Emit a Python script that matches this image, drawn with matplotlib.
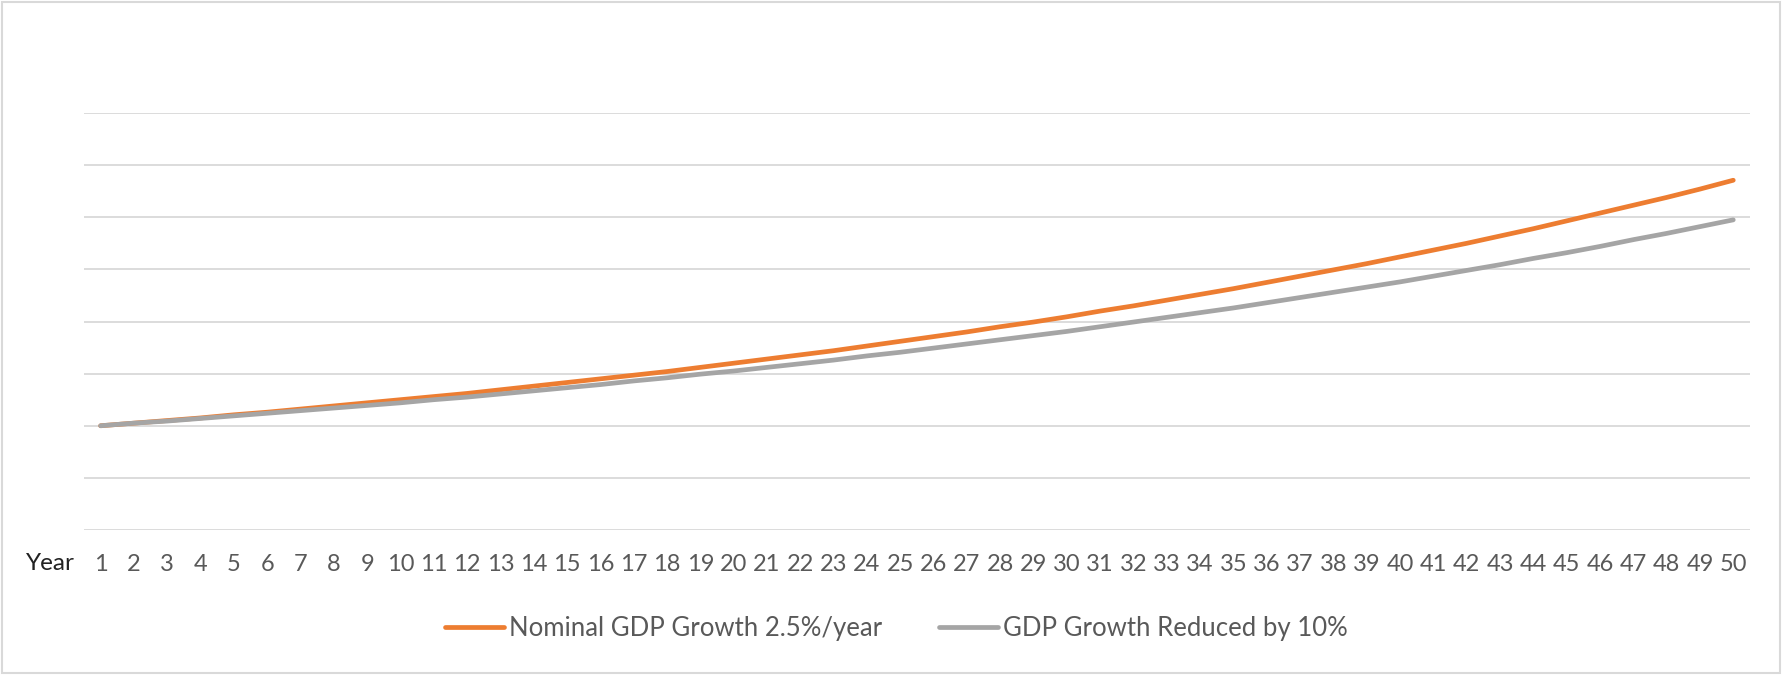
import matplotlib.pyplot as plt
from matplotlib.patches import Rectangle
import numpy as np

plt.rcParams['font.family'] = ['Lato', 'DejaVu Sans']

# Data (in gridline units; y axis carries no labels)
years = list(range(1, 51))
nominal_gdp = [2.00, 2.05, 2.10, 2.15, 2.21, 2.26, 2.32, 2.38, 2.44, 2.50,
               2.56, 2.62, 2.69, 2.76, 2.83, 2.90, 2.97, 3.04, 3.12, 3.20,
               3.28, 3.36, 3.44, 3.53, 3.62, 3.71, 3.80, 3.90, 3.99, 4.09,
               4.20, 4.30, 4.41, 4.52, 4.63, 4.75, 4.87, 4.99, 5.11, 5.24,
               5.37, 5.50, 5.64, 5.78, 5.93, 6.08, 6.23, 6.38, 6.54, 6.71]
reduced_gdp = [2.00, 2.05, 2.09, 2.14, 2.19, 2.24, 2.29, 2.34, 2.39, 2.44,
               2.50, 2.55, 2.61, 2.67, 2.73, 2.79, 2.86, 2.92, 2.99, 3.05,
               3.12, 3.19, 3.26, 3.34, 3.41, 3.49, 3.57, 3.65, 3.73, 3.81,
               3.90, 3.99, 4.08, 4.17, 4.26, 4.36, 4.46, 4.56, 4.66, 4.76,
               4.87, 4.98, 5.09, 5.21, 5.32, 5.44, 5.57, 5.69, 5.82, 5.95]
gridlines = list(range(0, 9))

fig = plt.figure(figsize=(17.82, 6.75), dpi=100)
ax = fig.add_axes([0.0471, 0.2148, 0.9349, 0.6178])

ax.plot(years, nominal_gdp, color='#ED7D31', linewidth=3.4,
        solid_capstyle='round', label='Nominal GDP Growth 2.5%/year')
ax.plot(years, reduced_gdp, color='#A5A5A5', linewidth=3.4,
        solid_capstyle='round', label='GDP Growth Reduced by 10%')

ax.set_xlim(0.5, 50.5)
ax.set_ylim(0, 8)
ax.set_yticks(gridlines)
ax.set_yticklabels([])
ax.set_xticks(years)
ax.set_xticklabels([str(y) for y in years])
ax.tick_params(axis='both', length=0)
ax.tick_params(axis='x', labelsize=17, labelcolor='#595959', pad=17)
ax.yaxis.grid(True, color='#D9D9D9', linewidth=1.3)
ax.set_axisbelow(True)
for s in ax.spines.values():
    s.set_visible(False)

fig.text(26 / 1782, 1 - 563 / 675, 'Year', fontsize=17.5, color='#222222',
         ha='left', va='center')

ax.legend(loc='center', bbox_to_anchor=(0.503, 0.0696), bbox_transform=fig.transFigure,
          ncol=2, frameon=False, fontsize=18.5, labelcolor='#595959',
          handlelength=2.3, handletextpad=0.2, columnspacing=2.2)

fig.patches.append(Rectangle((2 / 1782, 2 / 675), 1 - 4 / 1782, 1 - 4 / 675,
                             transform=fig.transFigure, fill=False,
                             edgecolor='#D9D9D9', linewidth=1.5))

plt.savefig('out.png', dpi=100)
